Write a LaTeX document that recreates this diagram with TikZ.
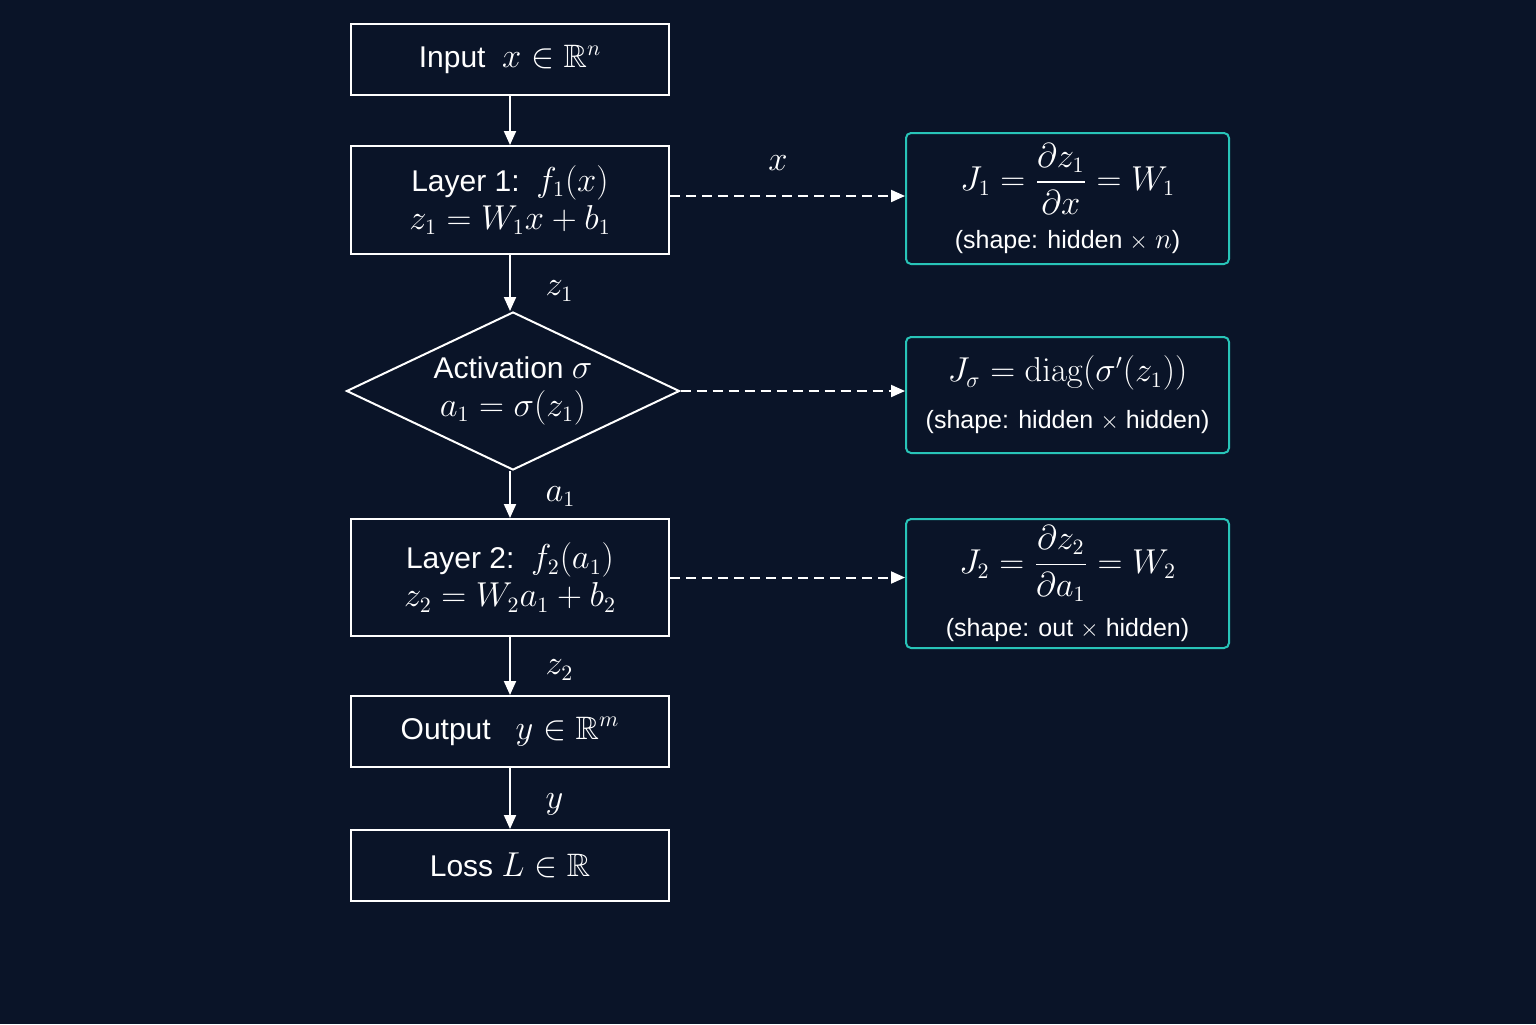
\documentclass[tikz,border=0pt]{standalone}
\usepackage{amsmath,amssymb}
\usepackage[no-math]{fontspec}
\setmainfont{Liberation Sans}
\usetikzlibrary{shapes.geometric,arrows.meta}
\definecolor{bg}{RGB}{10,20,40}
\definecolor{teal}{RGB}{40,196,184}
\newcommand{\smalltxt}{\fontsize{12.5}{19}\selectfont}
\newcommand{\mth}[1]{{\fontsize{16.2}{19}\selectfont$#1$}}
\begin{document}
\begin{tikzpicture}[x=0.5pt,y=-0.5pt,
  every node/.style={text=white,font=\fontsize{15}{19}\selectfont},
  flowbox/.style={draw=white,line width=1pt,fill=bg,minimum width=159pt,align=center,inner sep=0pt},
  jacbox/.style={draw=teal,line width=1pt,rounded corners=2.5pt,fill=bg,minimum width=161.5pt,align=center,inner sep=0pt},
  arr/.style={draw=white,line width=1pt,-{Triangle[width=6pt,length=7pt]}},
  darr/.style={draw=white,line width=1pt,dash pattern=on 5pt off 3pt,-{Triangle[width=6pt,length=7pt]}},
  elabel/.style={font=\fontsize{15}{19}\selectfont}
]
\fill[bg] (0,0) rectangle (1536,1024);
\useasboundingbox (0,0) rectangle (1536,1024);

\node[flowbox,minimum height=35.5pt] (in) at (510,59.5) {Input\ \ \mth{x\in\mathbb{R}^n}};
\node[flowbox,minimum height=54pt] (l1) at (510,200) {Layer 1:\ \ \mth{f_1(x)}\\ \mth{z_1=W_1x+b_1}};
\node[draw=white,line width=1pt,fill=bg,shape=diamond,aspect=2.1,minimum width=166.5pt,minimum height=79pt,inner sep=0pt,align=center] (act) at (513,391) {Activation \mth{\sigma}\\ \mth{a_1=\sigma(z_1)}};
\node[flowbox,minimum height=58.5pt] (l2) at (510,577.5) {Layer 2:\ \ \mth{f_2(a_1)}\\ \mth{z_2=W_2a_1+b_2}};
\node[flowbox,minimum height=35.5pt] (out) at (510,731.5) {Output\ \ \ \mth{y\in\mathbb{R}^m}};
\node[flowbox,minimum height=35.5pt] (loss) at (510,865.5) {Loss \mth{L\in\mathbb{R}}};

\node[jacbox,minimum height=65.5pt] (j1) at (1067.5,198.5) {\mth{J_1=\dfrac{\partial z_1}{\partial x}=W_1}\\[7pt] \smalltxt (shape: hidden $\times$ {\fontsize{13.5}{19}\selectfont$n$})};
\node[jacbox,minimum height=58pt] (js) at (1067.5,395) {\mth{J_\sigma=\operatorname{diag}(\sigma'(z_1))}\\[4.5pt] \smalltxt (shape: hidden $\times$ hidden)};
\node[jacbox,minimum height=64.5pt] (j2) at (1067.5,583.5) {\mth{J_2=\dfrac{\partial z_2}{\partial a_1}=W_2}\\[7pt] \smalltxt (shape: out $\times$ hidden)};

\draw[arr] (in.south) -- (l1.north);
\draw[arr] (l1.south) -- node[right,xshift=14pt,yshift=-4pt,elabel]{\mth{z_1}} (l1.south |- act.north);
\draw[arr] (l1.south |- act.south) -- node[right,xshift=14pt,yshift=-1pt,elabel]{\mth{a_1}} (l2.north);
\draw[arr] (l2.south) -- node[right,xshift=14pt,yshift=-2pt,elabel]{\mth{z_2}} (out.north);
\draw[arr] (out.south) -- node[right,xshift=14pt,yshift=-3pt,elabel]{\mth{y}} (loss.north);

\draw[darr] (l1.east) ++(0,-4) coordinate (l1e) -- node[pos=0.46,above=9pt,elabel]{\mth{x}} (l1e -| j1.west);
\draw[darr] (act.east) -- (act.east -| js.west);
\draw[darr] (l2.east) -- (l2.east -| j2.west);
\end{tikzpicture}
\end{document}
